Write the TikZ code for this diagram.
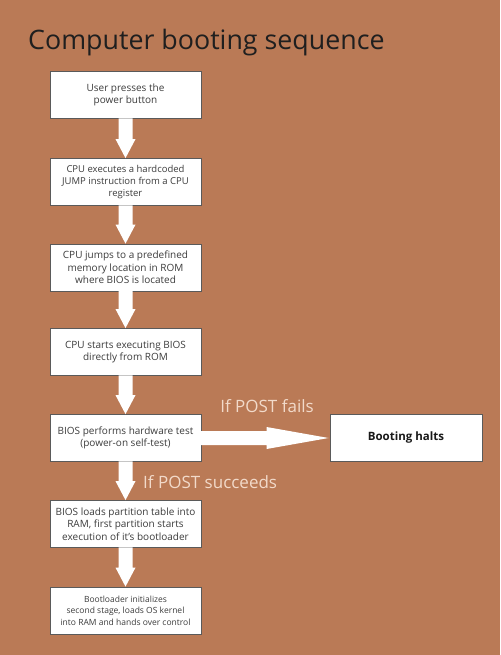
\documentclass[tikz,border=0pt]{standalone}
\usepackage{fontspec}
\setmainfont{Open Sans}
\usetikzlibrary{calc}
\definecolor{bg}{RGB}{186,122,86}
\definecolor{lbl}{RGB}{242,218,202}
\definecolor{boxline}{RGB}{90,90,90}
\definecolor{boxtext}{RGB}{60,60,60}
\newcommand\vblockarrow[2]{%
  \fill[white] ($(#1.south)+(-7,-0.6)$) -- ($(#2.north)+(-7,-19)$) -- ($(#2.north)+(-10,-19)$)
    -- (#2.north) -- ($(#2.north)+(10,-19)$) -- ($(#2.north)+(7,-19)$) -- ($(#1.south)+(7,-0.6)$) -- cycle;}
\newcommand\hblockarrow[2]{%
  \fill[white] ($(#1.east)+(-0.6,-7)$) -- ($(#2.west)+(-63,-7)$) -- ($(#2.west)+(-63,-11)$)
    -- ($(#2.west)+(-1,0)$) -- ($(#2.west)+(-63,11)$) -- ($(#2.west)+(-63,7)$) -- ($(#1.east)+(-0.6,7)$) -- cycle;}
\begin{document}
\begin{tikzpicture}[x=1pt,y=-1pt,
  stepbox/.style={draw=boxline, line width=0.8pt, fill=white, minimum width=151pt, minimum height=47pt,
    align=center, inner sep=0pt, text=boxtext, font=\fontsize{10}{12.5}\selectfont},
  lbltext/.style={text=lbl, font=\fontsize{17}{20}\selectfont, inner sep=0pt}]
\fill[bg] (0,0) rectangle (500,655);
\useasboundingbox (0,0) rectangle (500,655);
\node[anchor=base west, inner sep=0pt, text=black!88, font=\fontsize{26.8}{30}\selectfont] (title) at (28,50) {Computer booting sequence};
\node[stepbox] (b1) at (125.5,95) {User presses the\\power button};
\node[stepbox, font=\fontsize{9.5}{12}\selectfont] (b2) at (125.5,182) {CPU executes a hardcoded\\JUMP instruction from a CPU\\register};
\node[stepbox] (b3) at (125.5,267.5) {CPU jumps to a predefined\\memory location in ROM\\where BIOS is located};
\node[stepbox] (b4) at (125.5,352) {CPU starts executing BIOS\\directly from ROM};
\node[stepbox] (b5) at (125.5,438) {BIOS performs hardware test\\(power-on self-test)};
\node[stepbox] (b6) at (125.5,524) {BIOS loads partition table into\\RAM, first partition starts\\execution of it's bootloader};
\node[stepbox, font=\fontsize{8.5}{11.5}\selectfont] (b7) at (125.5,610.5) {Bootloader initializes\\second stage, loads OS kernel\\into RAM and hands over control};
\node[stepbox, minimum width=152pt, font=\fontsize{11.5}{14}\selectfont\bfseries, text=black!90] (halt) at (406,438) {Booting halts};
\vblockarrow{b1}{b2}
\vblockarrow{b2}{b3}
\vblockarrow{b3}{b4}
\vblockarrow{b4}{b5}
\vblockarrow{b5}{b6}
\vblockarrow{b6}{b7}
\hblockarrow{b5}{halt}
\node[lbltext, anchor=base] (fail) at (267,412.5) {If POST fails};
\node[lbltext, anchor=base west] (succ) at (143,488) {If POST succeeds};
\end{tikzpicture}
\end{document}
